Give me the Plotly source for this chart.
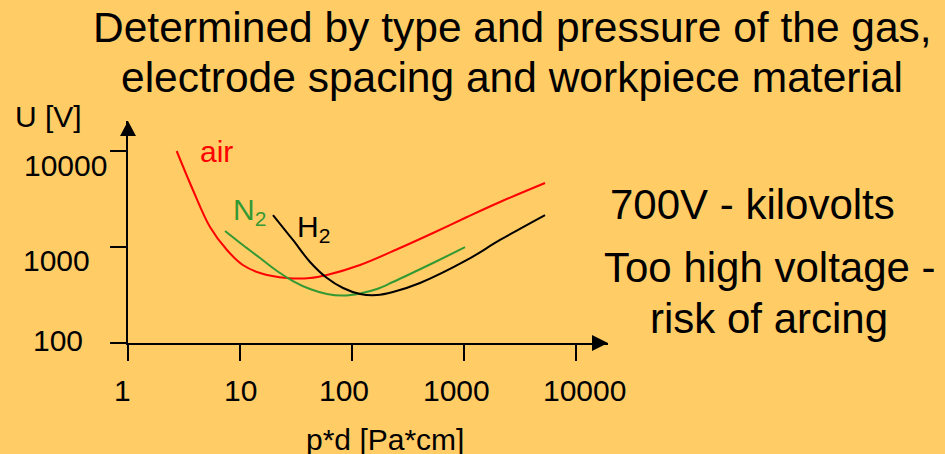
import math
import plotly.graph_objects as go

# ---------------- data ----------------
air_x = [2.72, 3.80, 5.40, 7.65, 10.6, 15.1, 26.3, 42.2, 59.8, 118, 268, 529, 1064, 2096, 5290]
air_y = [10000, 3926, 1616, 930, 649, 536, 475, 475, 511, 649, 977, 1400, 2053, 2944, 4642]

n2_x = [7.35, 10.6, 15.1, 21.4, 29.7, 42.2, 59.8, 83.2, 118, 167, 232, 330, 529, 1021]
n2_y = [1468, 1049, 768, 562, 442, 365, 324, 312, 328, 365, 432, 523, 681, 995]

h2_x = [19.7, 29.7, 42.2, 59.8, 83.2, 118, 167, 232, 405, 1064, 2096, 5290]
h2_y = [2154, 1183, 698, 475, 374, 324, 316, 340, 422, 733, 1183, 2154]

x_tickvals = [1, 10, 100, 1000, 10000]
x_ticktext = ["1", "10", "100", "1000", "10000"]
y_tickvals = [100, 1000, 10000]
y_ticktext = ["100", "1000", "10000"]

title_lines = ["Determined by type and pressure of the gas,",
               "electrode spacing and workpiece material"]
side_lines = ["700V - kilovolts", "Too high voltage -", "risk of arcing"]

# ---------------- layout helpers ----------------
W, H = 945, 454
L, R, T, B = 128, 608, 121, 343   # plot area in pixels
FONT = "Liberation Sans, Arial, sans-serif"
BG = "#FFCC66"


def px_x(p):
    return (p - L) / (R - L)


def px_y(p):
    return (B - p) / (B - T)


fig = go.Figure()
fig.add_trace(go.Scatter(x=air_x, y=air_y, mode="lines", line=dict(color="#FF0000", width=2, shape="spline"),
                         name="air", showlegend=False, hoverinfo="skip"))
fig.add_trace(go.Scatter(x=n2_x, y=n2_y, mode="lines", line=dict(color="#339933", width=2, shape="spline"),
                         name="N2", showlegend=False, hoverinfo="skip"))
fig.add_trace(go.Scatter(x=h2_x, y=h2_y, mode="lines", line=dict(color="#000000", width=2, shape="spline"),
                         name="H2", showlegend=False, hoverinfo="skip"))

ann = []
# x tick labels
x_shift = [-6, 0, -8, -8, 8]
for v, t, s in zip(x_tickvals, x_ticktext, x_shift):
    ann.append(dict(x=math.log10(v), xref="x", y=px_y(390), yref="paper", text=t, showarrow=False,
                    xanchor="center", yanchor="middle", xshift=s, font=dict(size=30, color="black", family=FONT)))
# y tick labels
y_pos = [(57.5, 3), (56.5, -13), (65, -14)]
for v, t, (cx, s) in zip(y_tickvals, y_ticktext, y_pos):
    ann.append(dict(x=px_x(cx), xref="paper", y=math.log10(v), yref="y", text=t, showarrow=False,
                    xanchor="center", yanchor="middle", yshift=s, font=dict(size=30, color="black", family=FONT)))

# axis titles
ann.append(dict(x=px_x(48.5), y=px_y(116), xref="paper", yref="paper", text="U [V]", showarrow=False,
                xanchor="center", yanchor="middle", font=dict(size=30, color="black", family=FONT)))
ann.append(dict(x=px_x(384.5), y=px_y(439), xref="paper", yref="paper", text="p*d [Pa*cm]", showarrow=False,
                xanchor="center", yanchor="middle", font=dict(size=30, color="black", family=FONT)))

# series labels
ann.append(dict(x=px_x(216), y=px_y(151), xref="paper", yref="paper", text="air", showarrow=False,
                xanchor="center", yanchor="middle", font=dict(size=30, color="#FF0000", family=FONT)))
ann.append(dict(x=px_x(231), y=px_y(211), xref="paper", yref="paper", text="N<sub>2</sub>", showarrow=False,
                xanchor="left", yanchor="middle", font=dict(size=30, color="#339933", family=FONT)))
ann.append(dict(x=px_x(295), y=px_y(228.5), xref="paper", yref="paper", text="H<sub>2</sub>", showarrow=False,
                xanchor="left", yanchor="middle", font=dict(size=30, color="black", family=FONT)))

# title lines
for txt, cy in zip(title_lines, [27.5, 77.5]):
    ann.append(dict(x=px_x(512), y=px_y(cy), xref="paper", yref="paper", text=txt, showarrow=False,
                    xanchor="center", yanchor="middle", font=dict(size=42.5, color="black", family=FONT)))
# side text
for txt, cx, cy in zip(side_lines, [752, 770, 769], [204, 267.5, 318]):
    ann.append(dict(x=px_x(cx), y=px_y(cy), xref="paper", yref="paper", text=txt, showarrow=False,
                    xanchor="center", yanchor="middle", font=dict(size=42, color="black", family=FONT)))

# arrowheads on the axes
shapes = [
    dict(type="path", xref="paper", yref="paper", fillcolor="black", line=dict(width=0),
         path=f"M {px_x(608)} {px_y(343)} L {px_x(592)} {px_y(335)} L {px_x(592)} {px_y(351)} Z"),
    dict(type="path", xref="paper", yref="paper", fillcolor="black", line=dict(width=0),
         path=f"M {px_x(128)} {px_y(121)} L {px_x(120)} {px_y(136)} L {px_x(136)} {px_y(136)} Z"),
]

fig.update_layout(
    width=W, height=H,
    margin=dict(l=L, r=W - R, t=T, b=H - B, pad=0),
    paper_bgcolor=BG, plot_bgcolor=BG,
    showlegend=False,
    hovermode=False,
    annotations=ann,
    shapes=shapes,
    xaxis=dict(type="log", range=[0, (R - L) / 112], tickvals=x_tickvals, showticklabels=False,
               ticks="outside", ticklen=16, tickwidth=2, tickcolor="black",
               showline=True, linecolor="black", linewidth=2, showgrid=False, zeroline=False),
    yaxis=dict(type="log", range=[2, 2 + (B - T) / 96], tickvals=y_tickvals, showticklabels=False,
               ticks="outside", ticklen=16, tickwidth=2, tickcolor="black",
               showline=True, linecolor="black", linewidth=2, showgrid=False, zeroline=False),
)

fig.write_html("out.html", config={"displayModeBar": False},
               post_script="document.body.style.margin='0';document.body.style.background='" + BG + "';")
